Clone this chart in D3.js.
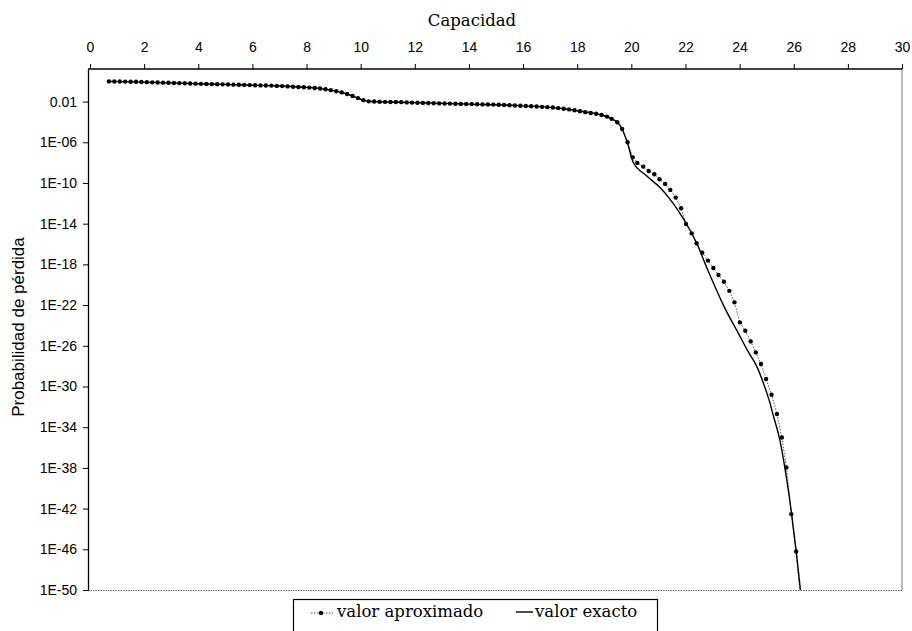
<!DOCTYPE html>
<html>
<head>
<meta charset="utf-8">
<script src="https://cdn.jsdelivr.net/npm/d3@7"></script>
<style>
  body { margin: 0; background: #fff; }
  svg { display: block; }
</style>
</head>
<body>
<svg width="912" height="631"></svg>
<script>
var svg = d3.select("svg"),
    width = +svg.attr("width"),
    height = +svg.attr("height");

// capacidad (eje x) y exponente log10 de la probabilidad, valor aproximado
var aproxCap = [0.7, 0.9, 1.1, 1.3, 1.5, 1.7, 1.9, 2.1, 2.3, 2.5, 2.7, 2.9, 3.1, 3.3, 3.5, 3.7, 3.9,
  4.1, 4.3, 4.5, 4.7, 4.9, 5.1, 5.3, 5.5, 5.7, 5.9, 6.1, 6.3, 6.5, 6.7, 6.9, 7.1, 7.3, 7.5, 7.7,
  7.9, 8.1, 8.3, 8.5, 8.7, 8.9, 9.1, 9.3, 9.5, 9.7, 9.9, 10.1, 10.3, 10.5, 10.7, 10.9, 11.1, 11.3,
  11.5, 11.7, 11.9, 12.1, 12.3, 12.5, 12.7, 12.9, 13.1, 13.3, 13.5, 13.7, 13.9, 14.1, 14.3, 14.5,
  14.7, 14.9, 15.1, 15.3, 15.5, 15.7, 15.9, 16.1, 16.3, 16.5, 16.7, 16.9, 17.1, 17.3, 17.5, 17.7,
  17.9, 18.1, 18.3, 18.5, 18.7, 18.9, 19.1, 19.27, 19.48, 19.66, 19.86, 20.05, 20.22, 20.44,
  20.64, 20.85, 21.04, 21.25, 21.44, 21.64, 21.84, 22.02, 22.23, 22.41, 22.62, 22.83, 23.03,
  23.22, 23.42, 23.62, 23.81, 24.01, 24.21, 24.41, 24.6, 24.79, 24.98, 25.18, 25.38, 25.56,
  25.73, 25.91, 26.09, 26.27];
var aproxExp = [-0.02, -0.03, -0.03, -0.04, -0.05, -0.06, -0.08, -0.09, -0.11, -0.12, -0.14,
  -0.15, -0.17, -0.19, -0.2, -0.22, -0.24, -0.26, -0.27, -0.29, -0.3, -0.31, -0.33, -0.34, -0.35,
  -0.37, -0.38, -0.39, -0.41, -0.42, -0.43, -0.46, -0.48, -0.51, -0.54, -0.57, -0.6, -0.63, -0.67,
  -0.72, -0.79, -0.88, -0.99, -1.1, -1.26, -1.45, -1.66, -1.86, -1.98, -2.0, -2.02, -2.03, -2.04,
  -2.05, -2.06, -2.08, -2.1, -2.11, -2.13, -2.14, -2.16, -2.18, -2.19, -2.2, -2.22, -2.23, -2.24,
  -2.25, -2.27, -2.28, -2.29, -2.3, -2.32, -2.34, -2.36, -2.39, -2.41, -2.43, -2.46, -2.49, -2.52,
  -2.55, -2.59, -2.64, -2.7, -2.77, -2.85, -2.95, -3.04, -3.12, -3.2, -3.32, -3.48, -3.7, -4.03,
  -4.69, -6.0, -7.48, -8.03, -8.39, -8.82, -9.15, -9.64, -10.09, -10.68, -11.44, -12.49, -14.03,
  -14.95, -15.93, -16.85, -17.63, -18.35, -19.04, -19.7, -20.6, -21.73, -23.7, -24.52, -25.57,
  -26.65, -27.79, -29.27, -30.81, -32.71, -35.01, -37.96, -42.54, -46.22, -51.5];

// valor exacto
var exactoCap = [0.7, 2, 4, 6, 7, 8, 8.6, 9, 9.4, 9.8, 10.1, 10.4, 12, 14, 16, 17, 18, 18.8,
  19.3, 19.6, 19.85, 20.07, 20.56, 21.05, 21.42, 21.73, 22.04, 22.41, 22.8, 23.4, 24.0, 24.3,
  24.63, 25.0, 25.12, 25.24, 25.49, 25.67, 25.92, 26.1, 26.3];
var exactoExp = [-0.02, -0.09, -0.25, -0.39, -0.47, -0.61, -0.75, -0.93, -1.18, -1.56, -1.86,
  -2.0, -2.1, -2.25, -2.42, -2.57, -2.9, -3.26, -3.72, -4.4, -6.0, -7.96, -9.28, -10.43, -11.57,
  -12.72, -14.03, -15.9, -18.4, -22.0, -25.0, -26.5, -28.0, -30.6, -31.6, -32.8, -35.3, -37.96,
  -42.5, -46.4, -51.3];

var xTicks = d3.range(0, 31, 2);
var yTicks = [1e-2, 1e-6, 1e-10, 1e-14, 1e-18, 1e-22, 1e-26, 1e-30, 1e-34, 1e-38, 1e-42, 1e-46, 1e-50];
var yTickLabels = ["0.01", "1E-06", "1E-10", "1E-14", "1E-18", "1E-22", "1E-26", "1E-30",
  "1E-34", "1E-38", "1E-42", "1E-46", "1E-50"];

var aproximado = aproxCap.map(function(c, i) { return {x: c, y: Math.pow(10, aproxExp[i])}; });
var exacto = exactoCap.map(function(c, i) { return {x: c, y: Math.pow(10, exactoExp[i])}; });

var plotLeft = 88, plotRight = 902, plotTop = 69, plotBottom = 590;

var x = d3.scaleLinear().domain([0, 30]).range([90, plotRight]);
var y = d3.scaleLog().domain([1e-50, Math.pow(10, 1.2)]).range([plotBottom, plotTop]);

svg.append("defs").append("clipPath").attr("id", "clip")
  .append("rect").attr("x", plotLeft).attr("y", plotTop)
  .attr("width", plotRight - plotLeft).attr("height", plotBottom - plotTop);

// marco del area de trazado
svg.append("line").attr("x1", plotRight).attr("x2", plotRight)
  .attr("y1", plotTop).attr("y2", plotBottom)
  .attr("stroke", "#777").attr("stroke-width", 1);
svg.append("line").attr("x1", plotLeft).attr("x2", plotRight)
  .attr("y1", plotBottom + 0.5).attr("y2", plotBottom + 0.5)
  .attr("stroke", "#666").attr("stroke-width", 1).attr("stroke-dasharray", "1.5,1");

// eje superior
var xAxis = svg.append("g")
  .attr("transform", "translate(0," + plotTop + ")")
  .call(d3.axisTop(x).tickValues(xTicks).tickSize(5).tickSizeOuter(0).tickPadding(12));
xAxis.selectAll("text")
  .style("font-family", "'Liberation Sans', Arial, sans-serif")
  .style("font-size", "14px").attr("fill", "#000");
xAxis.select(".domain").attr("d", "M" + plotLeft + ",0H" + plotRight)
  .attr("stroke", "#000").attr("stroke-width", 1.3);

// eje izquierdo
var yAxis = svg.append("g")
  .attr("transform", "translate(" + plotLeft + ",0)")
  .call(d3.axisLeft(y).tickValues(yTicks).tickSize(5).tickSizeOuter(0).tickPadding(6)
    .tickFormat(function(d, i) { return yTickLabels[i]; }));
yAxis.selectAll("text")
  .style("font-family", "'Liberation Sans', Arial, sans-serif")
  .style("font-size", "14px").attr("fill", "#000");
yAxis.select(".domain").attr("stroke", "#000").attr("stroke-width", 1.3);

svg.append("text")
  .attr("x", 472).attr("y", 26)
  .attr("text-anchor", "middle")
  .style("font-family", "'DejaVu Serif', serif").style("font-size", "16.5px")
  .text("Capacidad");

svg.append("text")
  .attr("transform", "translate(24,327) rotate(-90)")
  .attr("text-anchor", "middle")
  .style("font-family", "'Liberation Sans', Arial, sans-serif").style("font-size", "17px")
  .text("Probabilidad de pérdida");

var line = d3.line()
  .x(function(d) { return x(d.x); })
  .y(function(d) { return y(d.y); });

var plot = svg.append("g").attr("clip-path", "url(#clip)");

plot.append("path")
  .datum(aproximado)
  .attr("fill", "none")
  .attr("stroke", "#555")
  .attr("stroke-width", 1)
  .attr("stroke-dasharray", "1.5,1.5")
  .attr("d", line);

plot.append("path")
  .datum(exacto)
  .attr("fill", "none")
  .attr("stroke", "#000")
  .attr("stroke-width", 1.4)
  .attr("d", d3.line().curve(d3.curveMonotoneX)
    .x(function(d) { return x(d.x); })
    .y(function(d) { return y(d.y); }));

plot.selectAll("circle")
  .data(aproximado)
  .enter().append("circle")
    .attr("cx", function(d) { return x(d.x); })
    .attr("cy", function(d) { return y(d.y); })
    .attr("r", 2.2)
    .attr("fill", "#000");

// leyenda
var legend = svg.append("g");
legend.append("rect")
  .attr("x", 293.5).attr("y", 599.5).attr("width", 364).attr("height", 40)
  .attr("fill", "#fff").attr("stroke", "#000").attr("stroke-width", 1.2);
legend.append("line")
  .attr("x1", 311).attr("x2", 333).attr("y1", 613).attr("y2", 613)
  .attr("stroke", "#555").attr("stroke-dasharray", "1.5,1.5");
legend.append("circle").attr("cx", 321).attr("cy", 613).attr("r", 2.2).attr("fill", "#000");
legend.append("text")
  .attr("x", 337).attr("y", 617)
  .style("font-family", "'DejaVu Serif', serif").style("font-size", "16.5px")
  .text("valor aproximado");
legend.append("line")
  .attr("x1", 516).attr("x2", 533).attr("y1", 612).attr("y2", 612)
  .attr("stroke", "#000").attr("stroke-width", 1.4);
legend.append("text")
  .attr("x", 535).attr("y", 617)
  .style("font-family", "'DejaVu Serif', serif").style("font-size", "16.5px")
  .text("valor exacto");
</script>
</body>
</html>
